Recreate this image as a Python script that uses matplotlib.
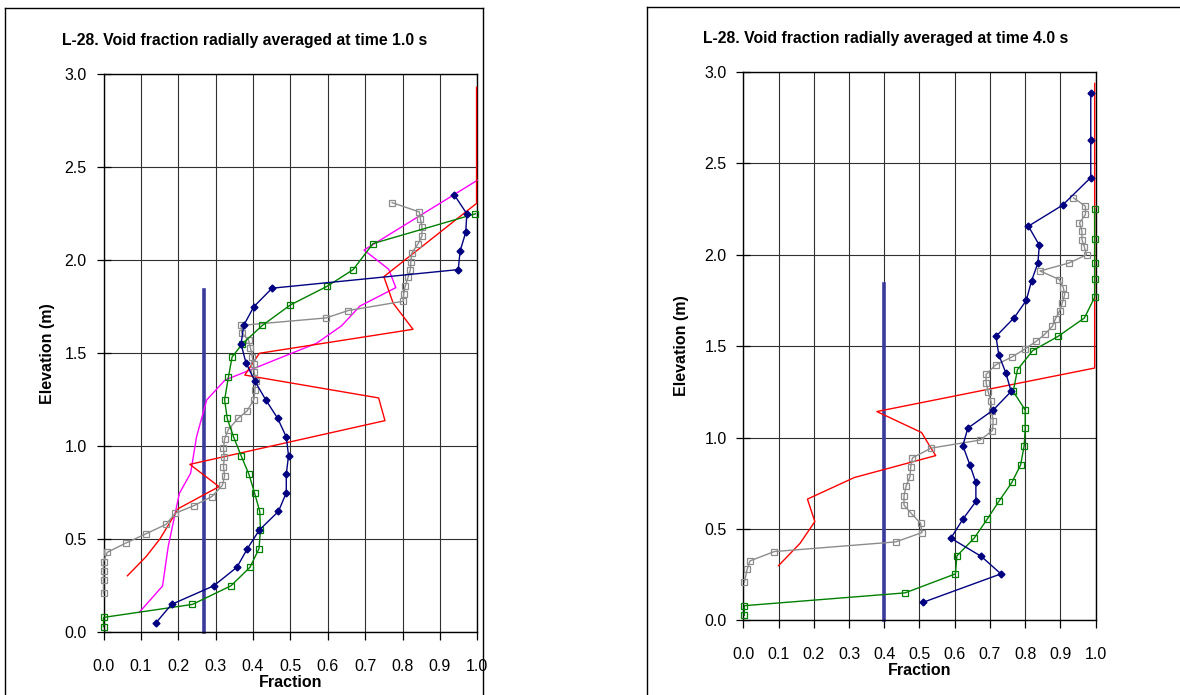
import matplotlib.pyplot as plt
from matplotlib.lines import Line2D

plt.rcParams['font.family'] = ['Liberation Sans', 'DejaVu Sans']

# ---- left chart : time 1.0 s ----
l_blue_x = [0.140, 0.182, 0.295, 0.357, 0.385, 0.417, 0.468, 0.489, 0.489, 0.495, 0.489, 0.466,
            0.434, 0.405, 0.381, 0.368, 0.375, 0.402, 0.451, 0.949, 0.954, 0.969, 0.972, 0.939]
l_blue_y = [0.05, 0.15, 0.25, 0.35, 0.45, 0.55, 0.65, 0.75, 0.85, 0.95, 1.05, 1.15,
            1.25, 1.35, 1.45, 1.55, 1.65, 1.75, 1.85, 1.95, 2.05, 2.15, 2.25, 2.35]

l_green_x = [0.0, 0.0, 0.238, 0.341, 0.392, 0.416, 0.420, 0.418, 0.404, 0.389, 0.368, 0.348,
             0.331, 0.324, 0.334, 0.344, 0.371, 0.425, 0.500, 0.598, 0.668, 0.721, 0.995]
l_green_y = [0.03, 0.08, 0.15, 0.25, 0.35, 0.45, 0.55, 0.65, 0.75, 0.85, 0.95, 1.05,
             1.15, 1.25, 1.37, 1.48, 1.55, 1.65, 1.76, 1.86, 1.95, 2.09, 2.25]

l_gray_x = [0.0, 0.0, 0.0, 0.0, 0.010, 0.060, 0.114, 0.167, 0.192, 0.241, 0.290, 0.318, 0.324,
            0.321, 0.323, 0.321, 0.324, 0.334, 0.360, 0.384, 0.402, 0.405, 0.407, 0.403, 0.402,
            0.398, 0.393, 0.388, 0.370, 0.368, 0.595, 0.655, 0.802, 0.803, 0.807, 0.815, 0.821,
            0.822, 0.825, 0.842, 0.852, 0.852, 0.848, 0.845, 0.772]
l_gray_y = [0.21, 0.28, 0.33, 0.38, 0.43, 0.48, 0.53, 0.58, 0.64, 0.68, 0.73, 0.79, 0.84,
            0.89, 0.94, 0.99, 1.04, 1.09, 1.15, 1.19, 1.25, 1.30, 1.35, 1.40, 1.44,
            1.48, 1.53, 1.57, 1.61, 1.65, 1.69, 1.73, 1.78, 1.82, 1.86, 1.91, 1.95,
            1.99, 2.04, 2.09, 2.13, 2.18, 2.22, 2.26, 2.31]

l_red_x = [0.064, 0.114, 0.151, 0.200, 0.309, 0.231, 0.753, 0.736, 0.378, 0.417, 0.828,
           0.775, 0.750, 0.998, 0.998]
l_red_y = [0.304, 0.407, 0.502, 0.665, 0.783, 0.903, 1.138, 1.260, 1.383, 1.500, 1.629,
           1.769, 1.912, 2.306, 2.93]

l_mag_x = [0.096, 0.158, 0.173, 0.203, 0.233, 0.249, 0.276, 0.325, 0.570, 0.637, 0.686,
           0.782, 0.763, 0.697, 1.0]
l_mag_y = [0.108, 0.249, 0.460, 0.747, 0.855, 1.052, 1.249, 1.356, 1.554, 1.648, 1.754,
           1.853, 1.952, 2.055, 2.43]

l_bar_x = [0.27, 0.27]
l_bar_y = [0.0, 1.84]

# ---- right chart : time 4.0 s ----
r_blue_x = [0.511, 0.731, 0.675, 0.589, 0.623, 0.660, 0.660, 0.643, 0.623, 0.637, 0.709, 0.760,
            0.745, 0.725, 0.717, 0.769, 0.803, 0.818, 0.836, 0.840, 0.809, 0.906, 0.986, 0.986, 0.986]
r_blue_y = [0.099, 0.254, 0.350, 0.449, 0.553, 0.650, 0.754, 0.850, 0.955, 1.051, 1.150, 1.252,
            1.353, 1.453, 1.553, 1.656, 1.750, 1.857, 1.955, 2.052, 2.156, 2.271, 2.422, 2.629, 2.882]

r_green_x = [0.003, 0.003, 0.459, 0.602, 0.606, 0.655, 0.692, 0.725, 0.762, 0.787, 0.797, 0.800,
             0.800, 0.766, 0.778, 0.821, 0.893, 0.968, 0.997, 0.997, 0.997, 0.997, 0.997]
r_green_y = [0.027, 0.080, 0.150, 0.254, 0.352, 0.449, 0.553, 0.650, 0.754, 0.850, 0.955, 1.051,
             1.150, 1.252, 1.371, 1.475, 1.553, 1.654, 1.767, 1.867, 1.955, 2.088, 2.252]

r_gray_x = [0.003, 0.011, 0.019, 0.088, 0.433, 0.507, 0.503, 0.476, 0.456, 0.456, 0.462, 0.473,
            0.475, 0.480, 0.533, 0.672, 0.707, 0.709, 0.705, 0.703, 0.695, 0.689, 0.689, 0.716,
            0.762, 0.799, 0.831, 0.855, 0.877, 0.886, 0.898, 0.905, 0.912, 0.908, 0.897, 0.842,
            0.925, 0.974, 0.968, 0.961, 0.961, 0.954, 0.971, 0.971, 0.937]
r_gray_y = [0.208, 0.279, 0.325, 0.376, 0.429, 0.480, 0.531, 0.586, 0.630, 0.681, 0.734, 0.785,
            0.838, 0.889, 0.942, 0.986, 1.038, 1.090, 1.145, 1.197, 1.249, 1.300, 1.345, 1.397,
            1.440, 1.484, 1.526, 1.564, 1.608, 1.650, 1.694, 1.736, 1.781, 1.820, 1.864, 1.911,
            1.955, 2.000, 2.041, 2.083, 2.128, 2.174, 2.220, 2.265, 2.311]

r_red_x = [0.100, 0.161, 0.203, 0.182, 0.315, 0.546, 0.530, 0.506, 0.379, 0.997, 0.997]
r_red_y = [0.299, 0.421, 0.540, 0.663, 0.781, 0.901, 0.950, 1.027, 1.142, 1.380, 2.937]

r_bar_x = [0.40, 0.40]
r_bar_y = [0.0, 1.84]

xticks = [0.0, 0.1, 0.2, 0.3, 0.4, 0.5, 0.6, 0.7, 0.8, 0.9, 1.0]
yticks = [0.0, 0.5, 1.0, 1.5, 2.0, 2.5, 3.0]

fontsize = 11.5
navy = '#000080'
green = '#008000'
gray = '#8c8c8c'
barcol = '#3a3a9c'

fig = plt.figure(figsize=(11.8, 6.95), dpi=100)

# chart frames (only partly visible, like the screenshot)
W, H = 1180.0, 695.0
def fline(x0, y0, x1, y1):
    fig.add_artist(Line2D([x0 / W, x1 / W], [1 - y0 / H, 1 - y1 / H], color='black', lw=1.0))

fline(5, 8, 5, 695)
fline(5, 8, 483, 8)
fline(483, 8, 483, 695)
fline(647, 7, 647, 695)
fline(647, 7, 1180, 7)

ax1 = fig.add_axes([103.5 / W, 1 - 632.3 / H, 373.8 / W, 558.0 / H])
ax2 = fig.add_axes([743.3 / W, 1 - 620.3 / H, 352.4 / W, 548.4 / H])


def style(ax, ylpad):
    ax.set_xlim(0, 1.0)
    ax.set_ylim(0, 3.0)
    ax.set_xticks(xticks)
    ax.set_yticks(yticks)
    ax.set_xticklabels(['%.1f' % t for t in xticks], fontsize=fontsize)
    ax.set_yticklabels(['%.1f' % t for t in yticks], fontsize=fontsize)
    ax.grid(True, color='#303030', lw=0.8)
    ax.set_axisbelow(True)
    for s in ['top', 'bottom', 'left', 'right']:
        ax.spines[s].set_linewidth(1.0)
    ax.xaxis.set_tick_params(direction='out', length=6, width=0.9, pad=13)
    ax.yaxis.set_tick_params(direction='inout', length=10, width=0.9, pad=7)
    ax.set_xlabel('Fraction', fontsize=fontsize, fontweight='bold', labelpad=1)
    ax.set_ylabel('Elevation (m)', fontsize=fontsize, fontweight='bold', labelpad=ylpad)


def blue(ax, x, y):
    ax.plot(x, y, color=navy, lw=1.0, marker='D', markersize=3.5, markerfacecolor=navy,
            markeredgecolor=navy, zorder=4)


def squares(ax, x, y, c, z):
    ax.plot(x, y, color=c, lw=1.0, marker='s', markersize=4.2, markerfacecolor='none',
            markeredgecolor=c, markeredgewidth=0.9, zorder=z)


# left
ax1.plot(l_bar_x, l_bar_y, color=barcol, lw=2.6, zorder=2)
ax1.plot(l_mag_x, l_mag_y, color='#ff00ff', lw=1.0, zorder=3)
ax1.plot(l_red_x, l_red_y, color='red', lw=1.0, zorder=3)
squares(ax1, l_gray_x, l_gray_y, gray, 3)
squares(ax1, l_green_x, l_green_y, green, 4)
blue(ax1, l_blue_x, l_blue_y)
style(ax1, 7)

# right
ax2.plot(r_bar_x, r_bar_y, color=barcol, lw=2.6, zorder=2)
ax2.plot(r_red_x, r_red_y, color='red', lw=1.0, zorder=3)
squares(ax2, r_gray_x, r_gray_y, gray, 3)
squares(ax2, r_green_x, r_green_y, green, 4)
blue(ax2, r_blue_x, r_blue_y)
style(ax2, 11)

fig.text(245 / W, 1 - 40 / H, 'L-28. Void fraction radially averaged at time 1.0 s',
         fontsize=11.3, fontweight='bold', ha='center', va='center')
fig.text(886 / W, 1 - 38 / H, 'L-28. Void fraction radially averaged at time 4.0 s',
         fontsize=11.3, fontweight='bold', ha='center', va='center')

for ax in [ax1, ax2]:
    for line in ax.get_lines():
        line.set_clip_on(False)

fig.savefig('out.png', dpi=100)
